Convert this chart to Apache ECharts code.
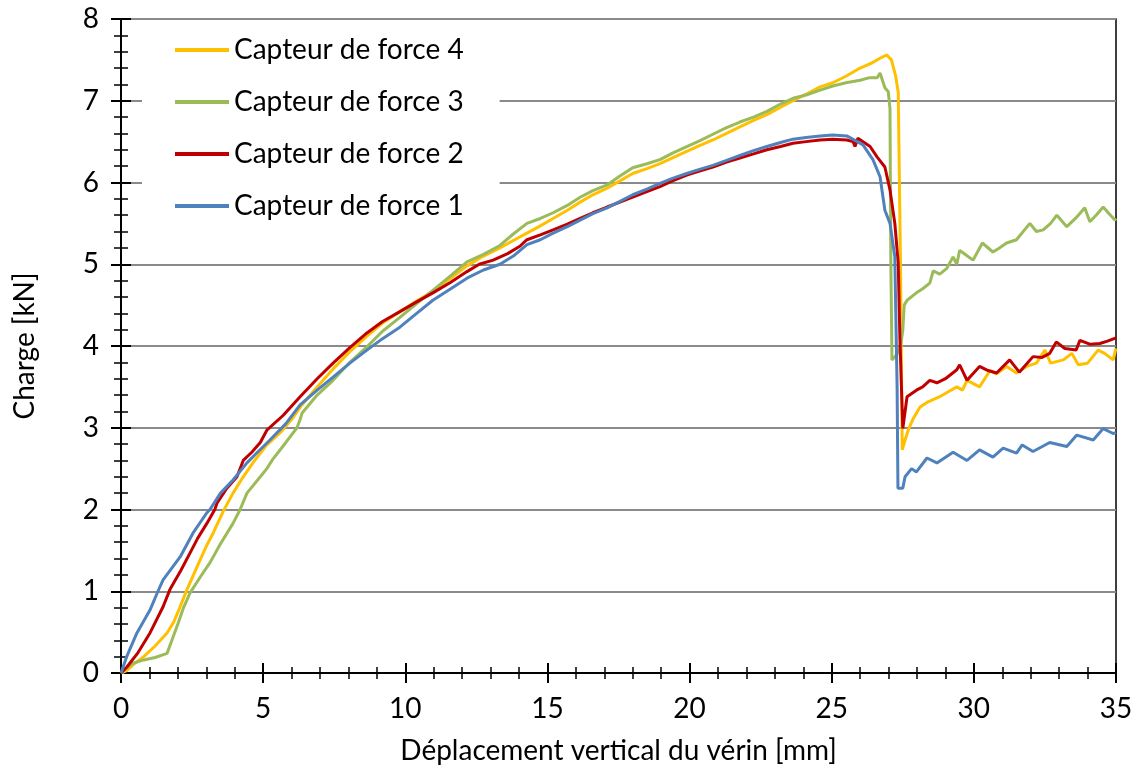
<!DOCTYPE html>
<html>
<head>
<meta charset="utf-8">
<script src="https://cdn.jsdelivr.net/npm/echarts@6/dist/echarts.min.js"></script>
<style>
html,body{margin:0;padding:0;background:#fff;}
#chart{width:1136px;height:776px;}
</style>
</head>
<body>
<div id="chart"></div>
<script>
// ---- Data (x = déplacement [mm], y = charge [kN]) ----
var seriesNames = ['Capteur de force 4', 'Capteur de force 3', 'Capteur de force 2', 'Capteur de force 1'];
var seriesColors = ['#FFC000', '#9BBB59', '#C00000', '#4F81BD'];

var capteur4 = [[0,0],[0.2,0.03],[0.42,0.1],[0.8,0.2],[1.2,0.33],[1.62,0.49],[1.85,0.62],[2.08,0.81],[2.32,1.02],[2.55,1.2],[2.78,1.38],[3.0,1.55],[3.24,1.71],[3.6,1.98],[3.94,2.2],[4.3,2.4],[4.64,2.57],[5.1,2.78],[5.6,2.94],[6.0,3.1],[6.3,3.25],[6.9,3.5],[7.46,3.72],[8.05,3.93],[8.65,4.12],[9.2,4.28],[9.81,4.42],[10.4,4.55],[10.97,4.67],[11.6,4.83],[12.17,4.98],[12.75,5.1],[13.33,5.2],[13.8,5.29],[14.28,5.38],[14.75,5.47],[15.2,5.56],[15.7,5.66],[16.15,5.76],[16.6,5.85],[17.1,5.93],[17.55,6.02],[18.0,6.11],[18.5,6.17],[18.96,6.23],[19.4,6.3],[19.9,6.38],[20.35,6.45],[20.82,6.52],[21.3,6.6],[21.77,6.68],[22.25,6.76],[22.72,6.83],[23.2,6.92],[23.64,7.0],[24.1,7.08],[24.59,7.17],[25.04,7.22],[25.5,7.3],[26.0,7.4],[26.4,7.46],[26.7,7.52],[26.94,7.56],[27.1,7.5],[27.25,7.3],[27.34,7.1],[27.42,5.0],[27.48,2.73],[27.58,2.85],[27.69,2.97],[27.85,3.1],[28.1,3.25],[28.35,3.31],[28.8,3.38],[29.1,3.44],[29.4,3.5],[29.6,3.46],[29.76,3.58],[30.2,3.5],[30.57,3.7],[30.8,3.66],[31.15,3.75],[31.5,3.67],[31.86,3.75],[32.2,3.79],[32.5,3.95],[32.7,3.79],[33.15,3.83],[33.45,3.91],[33.67,3.77],[34.0,3.79],[34.37,3.95],[34.6,3.91],[34.9,3.83],[35,3.97]];

var capteur3 = [[0,0],[0.2,0.06],[0.42,0.12],[0.8,0.16],[1.2,0.19],[1.62,0.24],[1.79,0.4],[2.0,0.6],[2.2,0.8],[2.43,0.98],[2.8,1.18],[3.13,1.35],[3.5,1.58],[3.94,1.83],[4.19,2.0],[4.43,2.2],[4.9,2.4],[5.13,2.5],[5.35,2.62],[5.8,2.82],[6.19,3.0],[6.3,3.1],[6.37,3.18],[6.9,3.4],[7.46,3.58],[8.05,3.8],[8.65,3.99],[9.2,4.18],[9.81,4.35],[10.4,4.52],[10.97,4.68],[11.6,4.86],[12.17,5.03],[12.75,5.12],[13.33,5.23],[13.8,5.37],[14.28,5.5],[14.75,5.56],[15.2,5.63],[15.7,5.72],[16.15,5.82],[16.6,5.9],[17.1,5.97],[17.55,6.08],[18.0,6.18],[18.5,6.23],[18.96,6.28],[19.4,6.36],[19.9,6.44],[20.35,6.51],[20.82,6.59],[21.3,6.67],[21.77,6.74],[22.25,6.8],[22.72,6.87],[23.2,6.96],[23.64,7.03],[24.1,7.07],[24.59,7.13],[25.04,7.18],[25.5,7.22],[26.0,7.25],[26.3,7.28],[26.6,7.28],[26.7,7.34],[26.87,7.16],[26.99,7.11],[27.05,6.9],[27.08,5.0],[27.12,3.83],[27.3,3.9],[27.42,4.0],[27.5,4.19],[27.55,4.5],[27.65,4.56],[27.98,4.65],[28.2,4.7],[28.45,4.77],[28.57,4.92],[28.8,4.88],[29.05,4.95],[29.27,5.09],[29.4,5.0],[29.5,5.17],[29.7,5.12],[29.97,5.05],[30.3,5.26],[30.67,5.15],[30.9,5.2],[31.15,5.26],[31.5,5.3],[31.97,5.5],[32.2,5.4],[32.44,5.42],[32.7,5.5],[32.92,5.6],[33.27,5.46],[33.6,5.57],[33.9,5.69],[34.08,5.52],[34.3,5.6],[34.55,5.7],[34.75,5.62],[34.96,5.54],[35,5.56]];

var capteur2 = [[0,0],[0.2,0.07],[0.6,0.25],[1.02,0.49],[1.48,0.81],[1.72,1.02],[2.1,1.25],[2.43,1.47],[2.7,1.65],[3.02,1.83],[3.3,2.0],[3.38,2.08],[3.7,2.25],[4.08,2.4],[4.3,2.6],[4.6,2.7],[4.9,2.82],[5.13,2.97],[5.7,3.15],[6.3,3.38],[6.9,3.6],[7.46,3.79],[8.05,3.98],[8.65,4.16],[9.2,4.3],[9.81,4.42],[10.4,4.54],[10.97,4.65],[11.6,4.78],[12.17,4.91],[12.6,5.0],[13.09,5.05],[13.6,5.13],[14.03,5.22],[14.28,5.3],[14.75,5.36],[15.2,5.42],[15.7,5.49],[16.15,5.56],[16.6,5.63],[17.1,5.7],[17.55,5.76],[18.0,5.82],[18.5,5.89],[18.96,5.95],[19.4,6.02],[19.9,6.09],[20.35,6.14],[20.82,6.19],[21.3,6.25],[21.77,6.3],[22.25,6.35],[22.72,6.4],[23.2,6.44],[23.64,6.48],[24.1,6.5],[24.59,6.52],[25.04,6.53],[25.53,6.52],[25.75,6.5],[25.82,6.44],[25.92,6.54],[25.99,6.56],[26.35,6.44],[26.6,6.31],[26.87,6.19],[27.05,5.91],[27.22,5.5],[27.34,5.01],[27.4,4.07],[27.5,2.99],[27.65,3.38],[27.98,3.46],[28.2,3.5],[28.45,3.58],[28.7,3.55],[29.0,3.6],[29.4,3.71],[29.5,3.77],[29.76,3.58],[30.2,3.75],[30.5,3.7],[30.8,3.67],[31.26,3.83],[31.6,3.68],[32.08,3.87],[32.4,3.86],[32.67,3.91],[32.9,4.05],[33.2,3.97],[33.6,3.95],[33.73,4.07],[34.1,4.02],[34.43,4.03],[34.7,4.06],[35,4.1]];

var capteur1 = [[0,0],[0.2,0.2],[0.56,0.49],[1.02,0.77],[1.3,1.0],[1.48,1.14],[2.08,1.42],[2.53,1.71],[3.02,1.96],[3.13,2.0],[3.5,2.2],[3.94,2.36],[4.43,2.57],[4.8,2.7],[5.24,2.85],[5.8,3.05],[6.3,3.28],[6.9,3.46],[7.46,3.62],[8.05,3.79],[8.65,3.95],[9.2,4.09],[9.81,4.23],[10.4,4.4],[10.97,4.56],[11.6,4.7],[12.17,4.83],[12.75,4.93],[13.33,5.0],[13.8,5.1],[14.28,5.24],[14.75,5.3],[15.2,5.38],[15.7,5.46],[16.15,5.54],[16.6,5.62],[17.1,5.69],[17.55,5.77],[18.0,5.85],[18.5,5.92],[18.96,5.99],[19.4,6.05],[19.9,6.11],[20.35,6.16],[20.82,6.21],[21.3,6.27],[21.77,6.33],[22.25,6.39],[22.72,6.44],[23.2,6.49],[23.64,6.53],[24.1,6.55],[24.59,6.57],[25.04,6.58],[25.53,6.57],[25.8,6.52],[26.1,6.46],[26.45,6.28],[26.7,6.07],[26.87,5.66],[27.05,5.5],[27.22,5.09],[27.3,3.5],[27.33,2.26],[27.5,2.26],[27.58,2.4],[27.81,2.5],[27.98,2.46],[28.35,2.63],[28.7,2.57],[29.27,2.7],[29.76,2.6],[30.2,2.73],[30.67,2.64],[31.03,2.75],[31.5,2.69],[31.7,2.79],[32.08,2.71],[32.67,2.82],[33.27,2.77],[33.62,2.91],[34.2,2.85],[34.55,2.99],[34.9,2.93],[35,2.94]];

var seriesData = [capteur4, capteur3, capteur2, capteur1];

var xTitle = 'Déplacement vertical du vérin [mm]';
var yTitle = 'Charge [kN]';
var xMin = 0, xMax = 35, xStep = 5;
var yMin = 0, yMax = 8, yStep = 1;

// ---- Chart ----
var FONT = 'Lato';
var FS = 28;
var chart = echarts.init(document.getElementById('chart'), null, {renderer: 'canvas'});

function makeX(inside, main) {
  return {
    type: 'value', min: xMin, max: xMax, interval: xStep, position: 'bottom', gridIndex: 0,
    name: main ? xTitle : '', nameLocation: 'middle', nameGap: 64,
    nameTextStyle: {fontFamily: FONT, fontSize: FS, color: '#000'},
    axisLine: {show: main, onZero: false, lineStyle: {color: '#000', width: 2}},
    axisTick: {show: true, inside: inside, length: 10, lineStyle: {color: '#000', width: 2}},
    minorTick: {show: true, splitNumber: 5, length: 6, lineStyle: {color: '#000', width: 1.5}},
    axisLabel: {show: main, margin: 22, fontFamily: FONT, fontSize: FS, color: '#000'},
    splitLine: {show: false}
  };
}
function makeY(inside, main) {
  return {
    type: 'value', min: yMin, max: yMax, interval: yStep, position: 'left', gridIndex: 0,
    name: main ? yTitle : '', nameLocation: 'middle', nameGap: 82, nameRotate: 90,
    nameTextStyle: {fontFamily: FONT, fontSize: FS, color: '#000'},
    axisLine: {show: main, onZero: false, lineStyle: {color: '#000', width: 2}},
    axisTick: {show: true, inside: inside, length: 10, lineStyle: {color: '#000', width: 2}},
    minorTick: {show: true, splitNumber: 5, length: 7, lineStyle: {color: '#000', width: 1.5}},
    axisLabel: {show: main, margin: 22, fontFamily: FONT, fontSize: FS, color: '#000'},
    splitLine: {show: main, lineStyle: {color: '#8a8a8a', width: 2}}
  };
}

var series = seriesNames.map(function (n, i) {
  return {
    name: n, type: 'line', xAxisIndex: 0, yAxisIndex: 0,
    data: seriesData[i], showSymbol: false, symbol: 'none', smooth: false,
    lineStyle: {color: seriesColors[i], width: 3}, itemStyle: {color: seriesColors[i]},
    animation: false, z: 2
  };
});

chart.setOption({
  backgroundColor: '#fff',
  animation: false,
  grid: {left: 121, right: 20, top: 19, bottom: 103, show: true, borderColor: '#000', borderWidth: 1.5, backgroundColor: 'transparent'},
  xAxis: [makeX(false, true), makeX(true, false)],
  yAxis: [makeY(false, true), makeY(true, false)],
  legend: {
    orient: 'vertical', left: 142, top: 25,
    padding: [10, 36, 10, 33],
    backgroundColor: '#fff',
    itemWidth: 54, itemHeight: 4, itemGap: 22,
    icon: 'rect',
    textStyle: {fontFamily: FONT, fontSize: FS, color: '#000', lineHeight: 30, padding: [0, 0, 0, 0]},
    data: seriesNames
  },
  series: series
});
</script>
</body>
</html>
